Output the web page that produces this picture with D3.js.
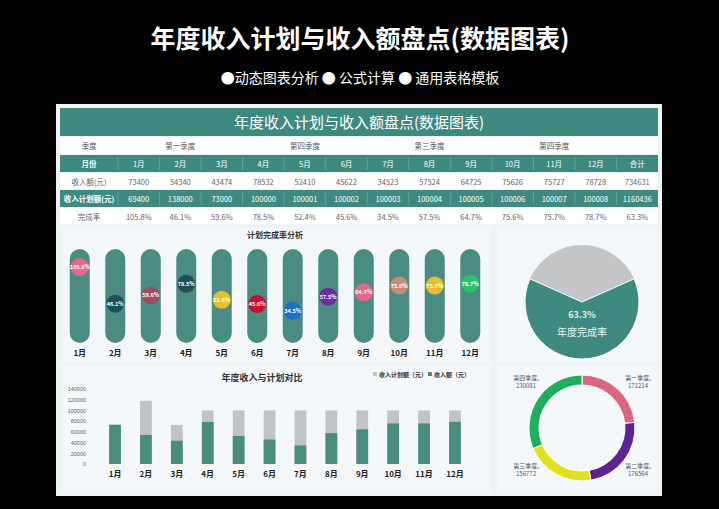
<!DOCTYPE html>
<html>
<head>
<meta charset="utf-8">
<script src="https://cdn.jsdelivr.net/npm/d3@7"></script>
<style>
body { margin:0; background:#000; font-family:"Noto Sans CJK SC","Noto Sans",sans-serif; }
</style>
</head>
<body>
<svg id="c" width="719" height="509"></svg>
<script>
var months = ["1月","2月","3月","4月","5月","6月","7月","8月","9月","10月","11月","12月"];
var quarters = ["第一季度","第四季度","第三季度","第四季度"];
var income = [73400,54340,43474,78532,52410,45622,34523,57524,64725,75626,75727,78728];
var plan = [69400,138000,73000,100000,100001,100002,100003,100004,100005,100006,100007,100008];
var chartPlan = [69400,118000,73000,100000,100001,100002,100003,100004,100005,100006,100007,100008];
var rate = [105.8,46.1,59.6,78.5,52.4,45.6,34.5,57.5,64.7,75.6,75.7,78.7];
var totals = [734631,1160436,"63.3%"];
var bubbleColors = ["#e8668a","#1d4f5c","#a04a63","#1d4f5c","#e6c02c","#c8102e","#1f6fc4","#6a2c9e","#e8668a","#c98a7a","#e6c02c","#2bc06a"];
var quarterNames = ["第一季度","第二季度","第三季度","第四季度"];
var quarterTotals = [171214,176564,156772,230081];
var quarterColors = ["#d9677f","#5b2491","#e4e020","#1fae5c"];
var annualRate = 63.3;

var teal = "#3f8a80";
var svg = d3.select("#c");

svg.append("text").attr("x",360).attr("y",48).attr("text-anchor","middle")
  .attr("fill","#fff").attr("font-size",25).attr("font-weight","bold").text("年度收入计划与收入额盘点(数据图表)");
svg.append("text").attr("x",360).attr("y",83).attr("text-anchor","middle")
  .attr("fill","#fff").attr("font-size",14).text("●动态图表分析   ● 公式计算   ● 通用表格模板");

// panel
svg.append("rect").attr("x",56).attr("y",104).attr("width",606).attr("height",392).attr("fill","#eef3f6");
svg.append("rect").attr("x",60).attr("y",108).attr("width",598).attr("height",28).attr("fill",teal);
svg.append("text").attr("x",359).attr("y",128).attr("text-anchor","middle").attr("fill","#fff")
  .attr("font-size",15).text("年度收入计划与收入额盘点(数据图表)");

// table
var colX = d3.scaleBand().domain(d3.range(13)).range([118,658]);
var rows = [
  {y:137, h:18, fill:"#fff", color:"#555"},
  {y:155, h:18, fill:teal, color:"#fff"},
  {y:173, h:17, fill:"#fff", color:"#666"},
  {y:190, h:18, fill:teal, color:"#fff"},
  {y:208, h:17, fill:"#fff", color:"#666"}
];
var labels = ["季度","月份","收入额(元)","收入计划额(元)","完成率"];
rows.forEach(function(r,i){
  svg.append("rect").attr("x",60).attr("y",r.y).attr("width",598).attr("height",r.h-1).attr("fill",r.fill);
  svg.append("text").attr("x",89).attr("y",r.y+r.h/2+3).attr("text-anchor","middle")
    .attr("fill",r.color).attr("font-size",7.5).attr("font-weight",i==1||i==3?"bold":"normal").text(labels[i]);
});
quarters.forEach(function(q,i){
  svg.append("text").attr("x",colX(i*3)+colX.bandwidth()*1.5).attr("y",149).attr("text-anchor","middle")
    .attr("fill","#555").attr("font-size",7.5).text(q);
});
var rowVals = [months.concat(["合计"]), income.concat([totals[0]]), plan.concat([totals[1]]),
  rate.map(function(d){return d.toFixed(1)+"%";}).concat([totals[2]])];
rowVals.forEach(function(vals,k){
  var r = rows[k+1];
  vals.forEach(function(v,i){
    svg.append("text").attr("x",colX(i)+colX.bandwidth()/2).attr("y",r.y+r.h/2+3).attr("text-anchor","middle")
      .attr("fill",r.color).attr("font-size",7.5).text(v);
    if (r.fill==teal) svg.append("line").attr("x1",colX(i)).attr("x2",colX(i)).attr("y1",r.y+2).attr("y2",r.y+r.h-3)
      .attr("stroke","#7fb3ab").attr("stroke-width",0.6);
  });
});

// bubble panel
svg.append("rect").attr("x",62).attr("y",228).attr("width",428).attr("height",134).attr("fill","#f4f8fa");
svg.append("text").attr("x",275).attr("y",238).attr("text-anchor","middle").attr("font-size",8).attr("font-weight","bold").attr("fill","#333").text("计划完成率分析");
var bx = d3.scaleBand().domain(months).range([62,488]);
var by = d3.scaleLinear().domain([0,100]).range([332,270.6]);
months.forEach(function(m,i){
  var cx = bx(m)+bx.bandwidth()/2;
  svg.append("rect").attr("x",cx-10).attr("y",249).attr("width",20).attr("height",94).attr("rx",10).attr("fill","#4a8c82");
  svg.append("circle").attr("cx",cx).attr("cy",by(rate[i])).attr("r",9).attr("fill",bubbleColors[i]);
  svg.append("text").attr("x",cx).attr("y",by(rate[i])+2).attr("text-anchor","middle")
    .attr("fill","#fff").attr("font-size",5.5).attr("font-weight","bold").text(rate[i].toFixed(1)+"%");
  svg.append("text").attr("x",cx).attr("y",356).attr("text-anchor","middle").attr("font-size",8).attr("font-weight","bold").attr("fill","#222").text(m);
});

// bar chart panel
svg.append("rect").attr("x",62).attr("y",366).attr("width",428).attr("height",126).attr("fill","#f4f8fa");
svg.append("text").attr("x",262).attr("y",381).attr("text-anchor","middle").attr("font-size",9).attr("font-weight","bold").attr("fill","#333").text("年度收入与计划对比");
svg.append("rect").attr("x",373).attr("y",372).attr("width",4).attr("height",4).attr("fill","#c1c3c6");
svg.append("text").attr("x",379).attr("y",377).attr("font-size",6).attr("font-weight","bold").attr("fill","#333").text("收入计划额（元）");
svg.append("rect").attr("x",428).attr("y",372).attr("width",4).attr("height",4).attr("fill","#4a8c7e");
svg.append("text").attr("x",434).attr("y",377).attr("font-size",6).attr("font-weight","bold").attr("fill","#333").text("收入额（元）");
var x = d3.scaleBand().domain(months).range([90,480]).padding(0.62);
var y = d3.scaleLinear().domain([0,140000]).range([464,389]);
var ax = svg.append("g").attr("transform","translate(90,0)")
  .call(d3.axisLeft(y).ticks(7).tickSize(0).tickPadding(4).tickFormat(d3.format("d")));
ax.select(".domain").remove();
ax.selectAll("text").attr("font-size",5.5).attr("fill","#666").attr("font-family","sans-serif");
svg.selectAll(".pb").data(chartPlan).enter().append("rect")
  .attr("x",function(d,i){return x(months[i]);}).attr("width",x.bandwidth())
  .attr("y",function(d){return y(d);}).attr("height",function(d){return y(0)-y(d);}).attr("fill","#c1c3c6");
svg.selectAll(".ib").data(income).enter().append("rect")
  .attr("x",function(d,i){return x(months[i]);}).attr("width",x.bandwidth())
  .attr("y",function(d){return y(d);}).attr("height",function(d){return y(0)-y(d);}).attr("fill","#4a8c7e");
months.forEach(function(m){
  svg.append("text").attr("x",x(m)+x.bandwidth()/2).attr("y",477).attr("text-anchor","middle")
    .attr("font-size",8).attr("font-weight","bold").attr("fill","#222").text(m);
});

// gauge
svg.append("rect").attr("x",497).attr("y",228).attr("width",161).attr("height",134).attr("fill","#f4f8fa");
var gc = svg.append("g").attr("transform","translate(582,302)");
var half = (100-annualRate)/100*Math.PI;
var arcG = d3.arc().innerRadius(0).outerRadius(57);
gc.append("path").attr("d",arcG({startAngle:-half,endAngle:half})).attr("fill","#c4c5c7");
gc.append("path").attr("d",arcG({startAngle:half,endAngle:2*Math.PI-half})).attr("fill","#3f8a80").attr("stroke","#fff").attr("stroke-width",1);
gc.append("text").attr("y",16).attr("text-anchor","middle").attr("fill","#d8f2ee").attr("font-size",9).attr("font-weight","bold").text(annualRate+"%");
gc.append("text").attr("y",34).attr("text-anchor","middle").attr("fill","#eaf7f5").attr("font-size",10).text("年度完成率");

// donut
svg.append("rect").attr("x",497).attr("y",366).attr("width",161).attr("height",126).attr("fill","#f4f8fa");
var dc = svg.append("g").attr("transform","translate(582,428)");
var pie = d3.pie().sort(null);
var arcD = d3.arc().innerRadius(43).outerRadius(53);
dc.selectAll("path").data(pie(quarterTotals)).enter().append("path")
  .attr("d",arcD).attr("fill",function(d,i){return quarterColors[i];}).attr("stroke","#fff").attr("stroke-width",1);
var lp = [[56,-48],[56,40],[-56,40],[-56,-48]];
quarterNames.forEach(function(n,i){
  var t = dc.append("text").attr("x",lp[i][0]).attr("y",lp[i][1]).attr("text-anchor","middle").attr("font-size",6).attr("fill","#555");
  t.append("tspan").attr("x",lp[i][0]).text(n+",");
  t.append("tspan").attr("x",lp[i][0]).attr("dy",8).text(quarterTotals[i]);
});
</script>
</body>
</html>
